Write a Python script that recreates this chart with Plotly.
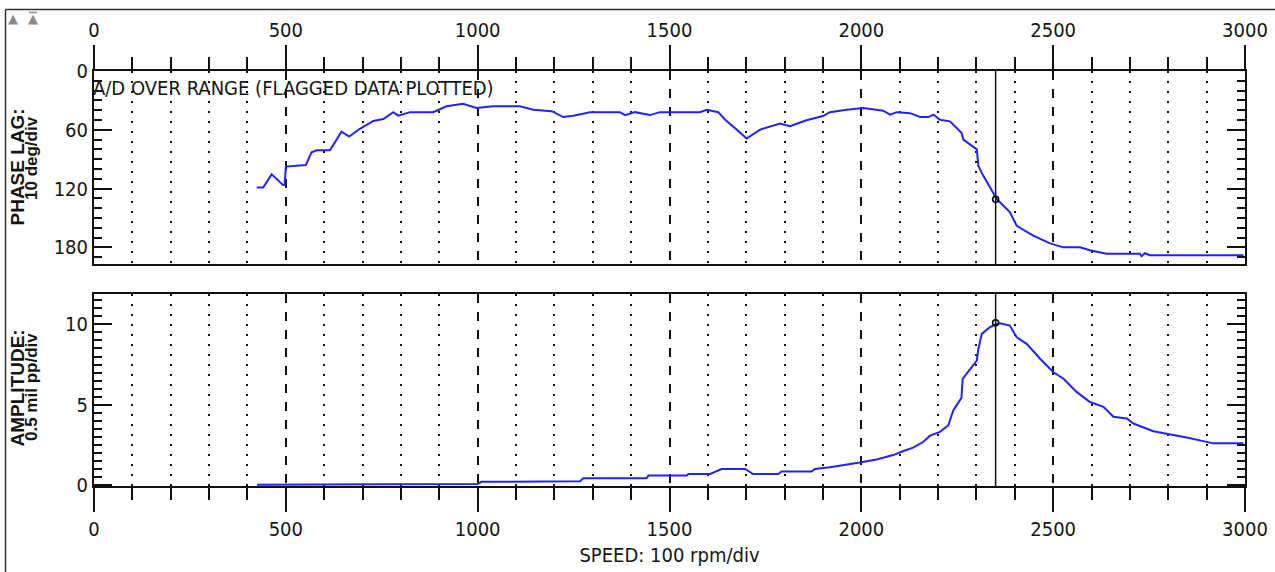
import plotly.graph_objects as go

# ---------------- data ----------------
phase_rpm = [424, 441, 463, 485, 493, 497, 500, 552, 567, 581, 615, 645, 665, 693, 728, 754, 780, 793,
             824, 884, 919, 962, 997, 1040, 1110, 1145, 1193, 1223, 1249, 1293, 1371, 1384, 1410, 1449,
             1475, 1579, 1597, 1627, 1645, 1675, 1701, 1736, 1788, 1814, 1857, 1900, 1918, 1962, 2005,
             2057, 2075, 2092, 2127, 2153, 2175, 2188, 2205, 2231, 2261, 2266, 2301, 2305, 2318, 2353,
             2387, 2405, 2448, 2492, 2527, 2570, 2596, 2639, 2726, 2730, 2739, 2752, 2996]
phase_deg = [119, 119, 105.5, 114, 116.5, 116, 97.6, 96, 83, 81, 81, 62, 67, 59, 51, 49, 42, 45.6,
             42, 42, 36, 33.5, 37.8, 36, 36, 39.5, 41, 47, 45.6, 42, 42, 45, 42, 45,
             42, 42, 39.5, 42, 49.7, 59.8, 69, 59.8, 53.7, 56.4, 50.3, 46, 42, 39.5, 37.8,
             40.5, 44.6, 42, 43, 47, 47, 44.6, 49.7, 51.4, 63, 70, 80, 97, 107, 130.7,
             144, 158, 168, 176, 180, 180, 183, 186.5, 186.5, 189, 186, 188, 188]

amp_rpm = [425, 745, 755, 1000, 1010, 1267, 1275, 1440, 1445, 1545, 1549, 1606, 1619, 1636, 1697,
           1718, 1784, 1792, 1870, 1879, 1918, 1962, 1996, 2040, 2083, 2110, 2135, 2162, 2179, 2205,
           2227, 2231, 2240, 2261, 2264, 2301, 2305, 2314, 2335, 2353, 2361, 2387, 2405, 2431, 2466,
           2500, 2527, 2561, 2596, 2631, 2657, 2692, 2709, 2761, 2804, 2848, 2891, 2917, 2996]
amp_mil = [0, 0, 0.03, 0.05, 0.18, 0.22, 0.4, 0.4, 0.57, 0.57, 0.67, 0.67, 0.82, 0.98, 0.98,
           0.67, 0.67, 0.82, 0.82, 0.98, 1.09, 1.23, 1.38, 1.58, 1.85, 2.1, 2.31, 2.68, 3.06, 3.3,
           3.71, 4.02, 4.65, 5.42, 6.6, 7.75, 8.48, 9.41, 9.83, 10.03, 10.07, 9.93, 9.2, 8.79, 7.86,
           7.03, 6.61, 5.79, 5.16, 4.86, 4.24, 4.13, 3.82, 3.34, 3.16, 2.95, 2.72, 2.58, 2.58]

cursor_rpm = 2350
cursor_phase = 131
cursor_amp = 10.1

x_ticks = [0, 500, 1000, 1500, 2000, 2500, 3000]
x_minor = [v for v in range(100, 3000, 100) if v % 500 != 0]
phase_ticks = [0, 60, 120, 180]
amp_ticks = [0, 5, 10]

# ---------------- style ----------------
NARROW = "Liberation Sans Narrow, Arial Narrow, DejaVu Sans Condensed, sans-serif"
BOLD = "Liberation Sans, Arial, sans-serif"
TXT = "#151515"
BLUE = "#2222ff"

fig = go.Figure()
fig.add_trace(go.Scatter(x=phase_rpm, y=phase_deg, mode="lines",
                         line=dict(color=BLUE, width=2), xaxis="x", yaxis="y", showlegend=False))
fig.add_trace(go.Scatter(x=amp_rpm, y=amp_mil, mode="lines",
                         line=dict(color=BLUE, width=2), xaxis="x2", yaxis="y2", showlegend=False))
fig.add_trace(go.Scatter(x=[cursor_rpm], y=[cursor_phase], mode="markers",
                         marker=dict(symbol="circle-open", size=6, color="black", line=dict(width=1.5)),
                         xaxis="x", yaxis="y", showlegend=False))
fig.add_trace(go.Scatter(x=[cursor_rpm], y=[cursor_amp], mode="markers",
                         marker=dict(symbol="circle-open", size=6, color="black", line=dict(width=1.5)),
                         xaxis="x2", yaxis="y2", showlegend=False))

tickfont = dict(family=NARROW, size=20, color=TXT)

def xaxis_cfg(side, anchor):
    return dict(
        domain=[0, 1], anchor=anchor, side=side, range=[0, 3000],
        tickmode="array", tickvals=x_ticks, ticktext=[str(v) for v in x_ticks],
        ticks="outside", ticklen=24, tickwidth=2, tickcolor="#111",
        showline=True, linewidth=2, linecolor="#111", mirror=True,
        showgrid=True, gridcolor="#111", gridwidth=1.5, griddash="9px,9px",
        zeroline=False, tickfont=tickfont, layer="below traces",
        minor=dict(tickmode="array", tickvals=x_minor, ticks="outside", ticklen=12, tickwidth=2,
                   tickcolor="#111", showgrid=True, gridcolor="#111", gridwidth=2, griddash="2px,8px"),
    )

ytop0, ytop1 = (486 - 264) / 415, 1.0
ybot0, ybot1 = 0.0, (486 - 294) / 415

fig.update_layout(
    width=1275, height=572,
    margin=dict(l=94, r=30, t=71, b=86, autoexpand=False),
    paper_bgcolor="white", plot_bgcolor="white",
    xaxis=xaxis_cfg("top", "y"),
    xaxis2={**xaxis_cfg("bottom", "y2"),
            "title": dict(text="SPEED: 100 rpm/div", font=dict(family=NARROW, size=20, color=TXT),
                          standoff=8)},
    yaxis=dict(domain=[ytop0, ytop1], anchor="x", range=[197, 0],
               tickmode="array", tickvals=phase_ticks, ticks="inside", ticklen=18, tickwidth=2,
               tickcolor="#111", showline=True, linewidth=2, linecolor="#111", mirror="ticks",
               showgrid=False, zeroline=False, tickfont=tickfont,
               minor=dict(dtick=10, tick0=0, ticks="inside", ticklen=8, tickwidth=2, tickcolor="#111",
                          showgrid=False)),
    yaxis2=dict(domain=[ybot0, ybot1], anchor="x2", range=[-0.08, 11.9],
                tickmode="array", tickvals=amp_ticks, ticks="inside", ticklen=18, tickwidth=2,
                tickcolor="#111", showline=True, linewidth=2, linecolor="#111", mirror="ticks",
                showgrid=False, zeroline=False, tickfont=tickfont, layer="below traces",
                minor=dict(dtick=0.5, tick0=0, ticks="inside", ticklen=8, tickwidth=2, tickcolor="#111",
                           showgrid=False)),
)

def px_x(px):
    return (px - 94) / 1151

def px_y(py):
    return (486 - py) / 415

annotations = [
    dict(text="A/D OVER RANGE (FLAGGED DATA PLOTTED)", xref="paper", yref="paper",
         x=px_x(91), y=px_y(88), xanchor="left", yanchor="middle", showarrow=False,
         font=dict(family=NARROW, size=20, color=TXT)),
    dict(text="PHASE LAG:", xref="paper", yref="paper", x=px_x(16.5), y=px_y(167),
         xanchor="center", yanchor="middle", textangle=-90, showarrow=False,
         font=dict(family=BOLD, size=19, color=TXT, weight="bold")),
    dict(text="10 deg/div", xref="paper", yref="paper", x=px_x(31), y=px_y(158),
         xanchor="center", yanchor="middle", textangle=-90, showarrow=False,
         font=dict(family=BOLD, size=17, color=TXT, weight="bold")),
    dict(text="AMPLITUDE:", xref="paper", yref="paper", x=px_x(16.5), y=px_y(388),
         xanchor="center", yanchor="middle", textangle=-90, showarrow=False,
         font=dict(family=BOLD, size=19, color=TXT, weight="bold")),
    dict(text="0.5 mil pp/div", xref="paper", yref="paper", x=px_x(31), y=px_y(387),
         xanchor="center", yanchor="middle", textangle=-90, showarrow=False,
         font=dict(family=BOLD, size=17, color=TXT, weight="bold")),
    dict(text="▲", xref="paper", yref="paper", x=px_x(13), y=px_y(18),
         xanchor="center", yanchor="middle", showarrow=False,
         font=dict(family="DejaVu Sans", size=13, color="#8a8a8a")),
    dict(text="▲", xref="paper", yref="paper", x=px_x(33), y=px_y(19),
         xanchor="center", yanchor="middle", showarrow=False,
         font=dict(family="DejaVu Sans", size=13, color="#8a8a8a")),
]
fig.update_layout(annotations=annotations)

shapes = [
    dict(type="line", xref="x", yref="y", x0=cursor_rpm, x1=cursor_rpm, y0=0, y1=197,
         line=dict(color="#111", width=1.5)),
    dict(type="line", xref="x2", yref="y2", x0=cursor_rpm, x1=cursor_rpm, y0=-0.08, y1=11.9,
         line=dict(color="#111", width=1.5)),
    dict(type="line", xref="paper", yref="paper", x0=px_x(5.5), x1=px_x(5.5), y0=px_y(9.5), y1=px_y(575),
         line=dict(color="#333", width=1.5)),
    dict(type="line", xref="paper", yref="paper", x0=px_x(5.5), x1=px_x(1280), y0=px_y(9.5), y1=px_y(9.5),
         line=dict(color="#333", width=1.5)),
    dict(type="line", xref="paper", yref="paper", x0=px_x(29), x1=px_x(37), y0=px_y(12.5), y1=px_y(12.5),
         line=dict(color="#8a8a8a", width=1.5)),
]
fig.update_layout(shapes=shapes)

fig.write_html("out.html")
